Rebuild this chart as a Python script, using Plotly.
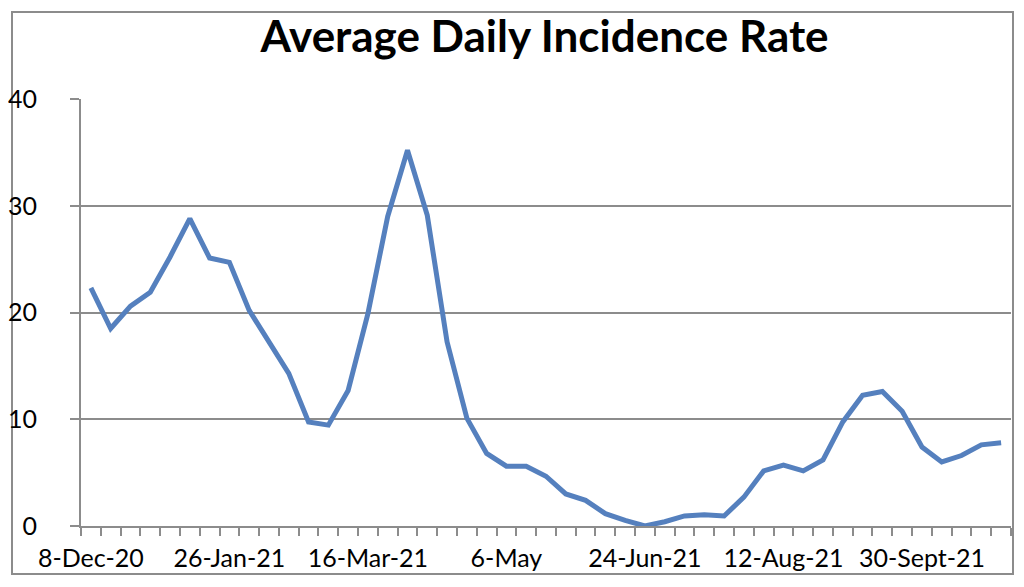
import plotly.graph_objects as go
import pandas as pd

# Weekly categories starting 8-Dec-2020
weeks = [d.strftime("%d-%b-%y") for d in pd.date_range("2020-12-08", periods=47, freq="7D")]

values = [22.3, 18.5, 20.6, 21.9, 25.2, 28.8, 25.1, 24.7, 20.2, 17.25,
          14.3, 9.75, 9.45, 12.7, 19.9, 29.0, 35.2, 29.1, 17.25, 10.1,
          6.8, 5.6, 5.6, 4.66, 3.0, 2.4, 1.16, 0.53, 0.0, 0.4,
          0.94, 1.06, 0.94, 2.7, 5.16, 5.7, 5.16, 6.2, 9.75, 12.25,
          12.6, 10.75, 7.4, 6.0, 6.6, 7.6, 7.8]

tick_idx = [0, 7, 14, 21, 28, 35, 42]
tick_labels = ["8-Dec-20", "26-Jan-21", "16-Mar-21", "6-May", "24-Jun-21", "12-Aug-21", "30-Sept-21"]

y_ticks = [0, 10, 20, 30, 40]

x_pos = list(range(len(weeks)))

GRID = "#8c8c8c"
FONT = "Lato"

# The page body adds an 8px offset; figure coordinates = screen - 8
W, H = 1016, 579
L, R, T, B = 73, 13, 91, 61

fig = go.Figure()
fig.add_trace(go.Scatter(
    x=x_pos, y=values, mode="lines",
    line=dict(color="#5580be", width=5),
    customdata=weeks, hovertemplate="%{customdata}: %{y}<extra></extra>",
))

fig.update_layout(
    width=W, height=H,
    margin=dict(l=L, r=R, t=T, b=B, autoexpand=False),
    paper_bgcolor="white", plot_bgcolor="white",
    showlegend=False,
    title=dict(text="<b>Average Daily Incidence Rate</b>",
               font=dict(family=FONT, size=44, color="black"),
               x=536.5 / W, xanchor="center", y=1 - 29 / H, yanchor="middle"),
    font=dict(family=FONT, color="black"),
)

fig.update_xaxes(
    automargin=False,
    range=[-0.5, len(weeks) - 0.5],
    tickmode="array", tickvals=[x_pos[i] for i in tick_idx], ticktext=tick_labels,
    ticks="", showgrid=False, zeroline=False,
    showline=True, linecolor=GRID, linewidth=2,
    tickfont=dict(family=FONT, size=25, color="black"),
    ticklabelstandoff=9,
    minor=dict(tick0=-0.5, dtick=1, ticks="outside", ticklen=8, tickwidth=2,
               tickcolor=GRID, showgrid=False),
)

fig.update_yaxes(
    automargin=False,
    range=[0, 40], tickmode="array", tickvals=y_ticks,
    ticks="outside", ticklen=9, tickwidth=2, tickcolor=GRID,
    showgrid=True, gridcolor=GRID, gridwidth=2,
    zeroline=False, showline=True, linecolor=GRID, linewidth=2,
    tickfont=dict(family=FONT, size=25, color="black"),
    ticklabelstandoff=28,
)

# Outer chart border
pw = W - L - R
ph = H - T - B
fig.add_shape(type="rect", xref="paper", yref="paper",
              x0=(4 - L) / pw, x1=(1005 - L) / pw,
              y0=(H - B - 566) / ph, y1=(H - B - 4) / ph,
              line=dict(color="#8c8c8c", width=2), fillcolor="rgba(0,0,0,0)", layer="below")

fig.write_html("out.html")
